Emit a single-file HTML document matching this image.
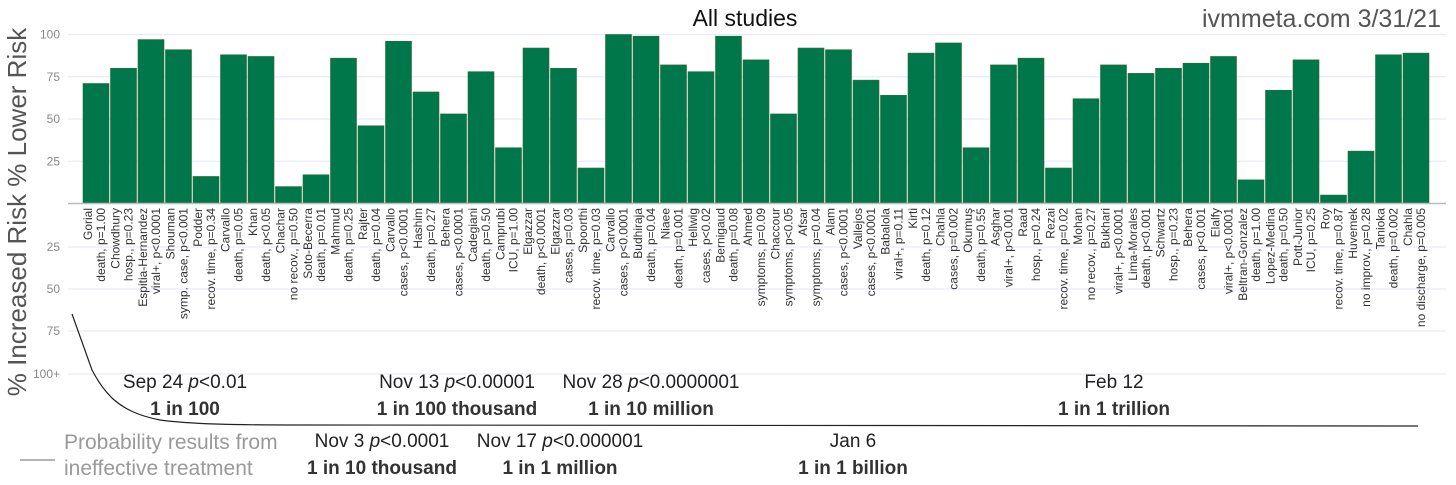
<!DOCTYPE html>
<html><head><meta charset="utf-8"><style>
html,body{margin:0;padding:0;background:#fff;}
svg{display:block;}
</style></head><body>
<svg id="chart" width="1456" height="485" xmlns="http://www.w3.org/2000/svg" font-family="'Liberation Sans Narrow','Liberation Sans',sans-serif">
<g id="grid"></g>
<g id="bars"></g>
<g id="xlabels"></g>
<g id="yticks"></g>
<line x1="68" y1="203.5" x2="1446" y2="203.5" stroke="#bbb" stroke-width="1.5"/>
<text x="745" y="26" font-size="23" text-anchor="middle" font-family="'Liberation Sans',sans-serif" fill="#111">All studies</text>
<text x="1441" y="27" font-size="25" text-anchor="end" font-family="'Liberation Sans',sans-serif" fill="#555">ivmmeta.com 3/31/21</text>
<text transform="translate(26,212) rotate(-90)" font-size="26" text-anchor="middle" font-family="'Liberation Sans',sans-serif" fill="#555">% Increased Risk % Lower Risk</text>
<path d="M72,314 L92,370 C100,385 106,392 112,398 C125,410 140,416 160,420 C190,424 230,425 300,425 L1418,426" fill="none" stroke="#222" stroke-width="1.2"/>
<line x1="20" y1="460" x2="55" y2="460" stroke="#888" stroke-width="1.2"/>
<text x="64" y="449" font-size="21" fill="#999">Probability results from</text>
<text x="64" y="475" font-size="21" fill="#999">ineffective treatment</text>
<g id="annots"></g>
</svg>
<script>
const names=["Gorial","Chowdhury","Espitia-Hernandez","Shouman","Podder","Carvallo","Khan","Chachar","Soto-Becerra","Mahmud","Rajter","Carvallo","Hashim","Behera","Cadegiani","Camprubi","Elgazzar","Elgazzar","Spoorthi","Carvallo","Budhiraja","Niaee","Hellwig","Bernigaud","Ahmed","Chaccour","Afsar","Alam","Vallejos","Babalola","Kirti","Chahla","Okumuş","Asghar","Raad","Rezai","Mohan","Bukhari","Lima-Morales","Schwartz","Behera","Elalfy","Beltran-Gonzalez","Lopez-Medina","Pott-Junior","Roy","Huvemek","Tanioka","Chahla"];
const outcomes=["death, p=1.00","hosp., p=0.23","viral+, p<0.0001","symp. case, p<0.001","recov. time, p=0.34","death, p=0.05","death, p<0.05","no recov., p=0.50","death, p=0.01","death, p=0.25","death, p=0.04","cases, p<0.0001","death, p=0.27","cases, p<0.0001","death, p=0.50","ICU, p=1.00","death, p<0.0001","cases, p=0.03","recov. time, p=0.03","cases, p<0.0001","death, p=0.04","death, p=0.001","cases, p<0.02","death, p=0.08","symptoms, p=0.09","symptoms, p<0.05","symptoms, p=0.04","cases, p<0.0001","cases, p<0.0001","viral+, p=0.11","death, p=0.12","cases, p=0.002","death, p=0.55","viral+, p<0.001","hosp., p=0.24","recov. time, p=0.02","no recov., p=0.27","viral+, p<0.0001","death, p<0.001","hosp., p=0.23","cases, p<0.001","viral+, p<0.0001","death, p=1.00","death, p=0.50","ICU, p=0.25","recov. time, p=0.87","no improv., p=0.28","death, p=0.002","no discharge, p=0.005"];
const values=[71,80,97,91,16,88,87,10,17,86,46,96,66,53,78,33,92,80,21,100,99,82,78,99,85,53,92,91,73,64,89,95,33,82,86,21,62,82,77,80,83,87,14,67,85,5,31,88,89];
const posTicks=[100,75,50,25];
const negTicks=["25","50","75","100+"];
const annotTop=[["Sep 24 ","p","<0.01","1 in 100",185],["Nov 13 ","p","<0.00001","1 in 100 thousand",457],["Nov 28 ","p","<0.0000001","1 in 10 million",651],["Feb 12","","","1 in 1 trillion",1114]];
const annotBot=[["Nov 3 ","p","<0.0001","1 in 10 thousand",382],["Nov 17 ","p","<0.000001","1 in 1 million",560],["Jan 6","","","1 in 1 billion",853]];

const NS="http://www.w3.org/2000/svg";
const y0=203.5, yTop=34.5, x0=83, band=27.5;
const yScale=v=>y0-(v/100)*(y0-yTop);
const negY=[247,289,331,374];
const xScale=i=>x0+i*band;
function mk(tag,attrs,parent){const e=document.createElementNS(NS,tag);for(const k in attrs)e.setAttribute(k,attrs[k]);parent.appendChild(e);return e;}
const grid=document.getElementById('grid'),bars=document.getElementById('bars'),xl=document.getElementById('xlabels'),yt=document.getElementById('yticks'),an=document.getElementById('annots');
posTicks.forEach(t=>{
  const y=yScale(t);
  const l=mk('line',{x1:68,x2:1446,y1:y,y2:y,stroke:'#e8ecf6','stroke-width':1.2},grid);
  
  
  const tx=mk('text',{x:60,y:y+4,'font-size':12,'text-anchor':'end',fill:'#888','font-family':"'Liberation Sans',sans-serif"},yt);
  tx.textContent=t;
  
  
});
negTicks.forEach((t,i)=>{
  const y=negY[i];
  const l=mk('line',{x1:68,x2:1446,y1:y,y2:y,stroke:'#e8ecf6','stroke-width':1.2},grid);
  
  
  const tx=mk('text',{x:60,y:y+4,'font-size':12,'text-anchor':'end',fill:'#888','font-family':"'Liberation Sans',sans-serif"},yt);
  tx.textContent=t;
  
  
});
values.forEach((v,i)=>{
  const x=xScale(i), y=yScale(v);
  const r=mk('rect',{x:x,y:y,width:band-1.5,height:y0-y,fill:'#00774a',stroke:'#2f6b3a','stroke-width':0.6},bars);
  
  
  const cx=x+band/2-1;
  const t=mk('text',{transform:`translate(${cx-4},208) rotate(-90)`,'font-size':12,'text-anchor':'end',fill:'#333'},xl);
  
  
  const s1=mk('tspan',{x:0,dy:0},t);s1.textContent=names[i];
  const s2=mk('tspan',{x:0,dy:13},t);s2.textContent=outcomes[i];
});
function annot(a,yA,yB){
  const t=mk('text',{x:a[4],y:yA,'font-size':19,'text-anchor':'middle',fill:'#222'},an);
  
  
  const s1=mk('tspan',{},t);s1.textContent=a[0];
  if(a[1]){const s2=mk('tspan',{'font-style':'italic'},t);s2.textContent=a[1];const s3=mk('tspan',{},t);s3.textContent=a[2];}
  const b=mk('text',{x:a[4],y:yB,'font-size':19,'font-weight':'bold','text-anchor':'middle',fill:'#333'},an);
  b.textContent=a[3];
  
  
}
annotTop.forEach(a=>annot(a,388,415));
annotBot.forEach(a=>annot(a,447,474));
</script>
</body></html>
